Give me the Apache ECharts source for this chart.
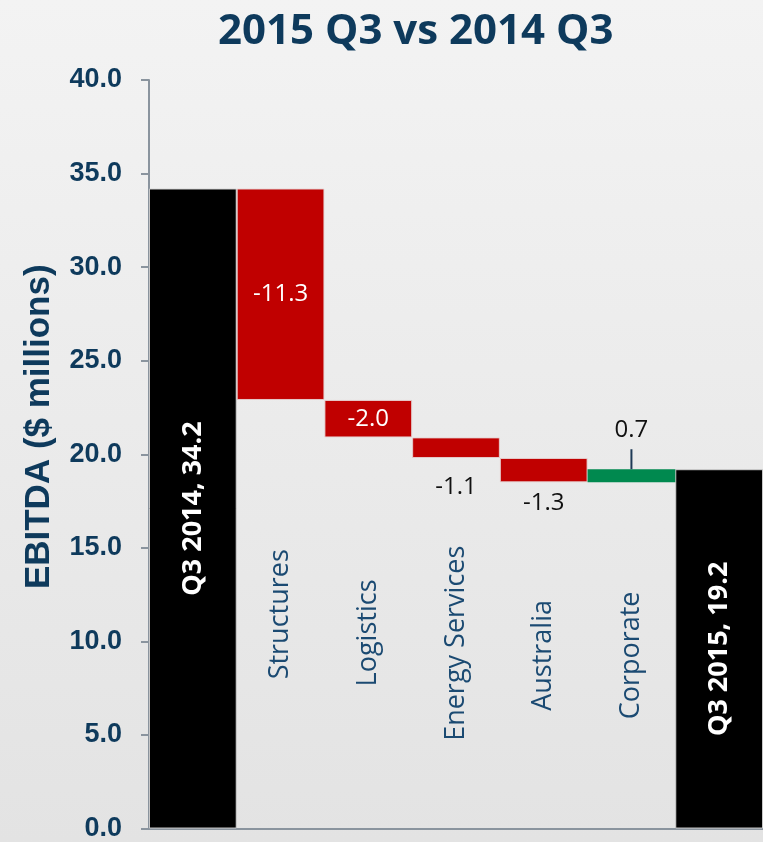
<!DOCTYPE html>
<html>
<head>
<meta charset="utf-8">
<script src="https://cdn.jsdelivr.net/npm/echarts@6/dist/echarts.min.js"></script>
<style>
html,body{margin:0;padding:0;}
#c{width:763px;height:842px;}
</style>
</head>
<body>
<div id="c"></div>
<script>
// ---- data ----
var categories = ['Q3 2014', 'Structures', 'Logistics', 'Energy Services', 'Australia', 'Corporate', 'Q3 2015'];
var startTotal = 34.2;           // Q3 2014 EBITDA
var endTotal = 19.2;             // Q3 2015 EBITDA
var changes = [-11.3, -2.0, -1.1, -1.3, 0.7];   // Structures..Corporate
var yTicks = [0, 40, 5];         // min, max, interval

// ---- derive waterfall stacks ----
var baseData = ['-'], decData = ['-'], incData = ['-'], totalData = [startTotal];
var running = startTotal;
changes.forEach(function (d, i) {
  var next = Math.round((running + d) * 10) / 10;
  var low = Math.min(running, next);
  baseData.push(low);
  if (d < 0) { decData.push(-d); incData.push('-'); }
  else { incData.push(d); decData.push('-'); }
  totalData.push('-');
  running = next;
});
baseData.push('-'); decData.push('-'); incData.push('-'); totalData.push(endTotal);

var navy = '#0E3A5C';
var catColor = '#1B4A72';
var axisGray = '#8A949E';

// per-item label settings for decreases
var decItems = decData.map(function (v, i) {
  if (v === '-') return v;
  var item = { value: v };
  if (v < 1.5) {
    item.label = { position: 'bottom', color: '#111', distance: (i === 3 ? 17 : 9) };
  }
  return item;
});

var chart = echarts.init(document.getElementById('c'));
chart.setOption({
  backgroundColor: {
    type: 'linear', x: 0, y: 0, x2: 0, y2: 1,
    colorStops: [{ offset: 0, color: '#f3f3f3' }, { offset: 1, color: '#e3e3e3' }]
  },
  animation: false,
  title: {
    text: '2015 Q3 vs 2014 Q3',
    left: 213, top: 6,
    textStyle: { fontFamily: 'Open Sans', fontWeight: 'bold', fontSize: 42, color: navy }
  },
  grid: { left: 149, right: 0, top: 80, bottom: 12 },
  xAxis: {
    type: 'category',
    data: categories,
    axisLine: { lineStyle: { color: axisGray, width: 2 } },
    axisTick: { show: false },
    axisLabel: { show: false },
    splitLine: { show: false }
  },
  yAxis: {
    type: 'value',
    min: yTicks[0], max: yTicks[1], interval: yTicks[2],
    name: 'EBITDA ($ millions)',
    nameLocation: 'middle',
    nameGap: 92,
    nameTextStyle: {
      fontFamily: 'Liberation Sans', fontWeight: 'bold', fontSize: 35, color: navy,
      padding: [0, 0, 0, 55]
    },
    axisLine: { show: true, lineStyle: { color: axisGray, width: 2 } },
    axisTick: { show: true, length: 8, lineStyle: { color: axisGray, width: 2 } },
    axisLabel: {
      margin: 27,
      fontFamily: 'Liberation Sans', fontWeight: 'bold', fontSize: 27, color: navy,
      formatter: function (v) { return v.toFixed(1); }
    },
    splitLine: { show: false }
  },
  series: [
    {
      name: 'base', type: 'bar', stack: 'w', barCategoryGap: '0%',
      itemStyle: { color: 'transparent' },
      label: {
        show: true, position: 'inside', rotate: 90,
        fontFamily: 'Open Sans', fontSize: 27, color: catColor,
        formatter: function (p) { return p.name; }
      },
      data: baseData
    },
    {
      name: 'total', type: 'bar', stack: 'w', barCategoryGap: '0%',
      itemStyle: { color: '#000000', borderColor: 'rgba(210,210,210,0.9)', borderWidth: 1 },
      label: {
        show: true, position: 'inside', rotate: 90,
        fontFamily: 'Open Sans', fontWeight: 'bold', fontSize: 27, color: '#ffffff',
        formatter: function (p) { return p.name + ', ' + p.value.toFixed(1); }
      },
      data: totalData
    },
    {
      name: 'decrease', type: 'bar', stack: 'w', barCategoryGap: '0%',
      itemStyle: { color: '#C00000', borderColor: 'rgba(230,210,210,0.9)', borderWidth: 1 },
      label: {
        show: true, position: 'inside',
        fontFamily: 'Open Sans', fontSize: 24, color: '#ffffff',
        formatter: function (p) { return '-' + p.value.toFixed(1); }
      },
      data: decItems
    },
    {
      name: 'increase', type: 'bar', stack: 'w', barCategoryGap: '0%',
      itemStyle: { color: '#00894F' },
      label: {
        show: true, position: 'top', distance: 0,
        formatter: function (p) { return '{v|' + p.value.toFixed(1) + '}\n{l| }'; },
        rich: {
          v: { fontFamily: 'Open Sans', fontSize: 24, color: '#111', lineHeight: 38 },
          l: { width: 2, height: 20, lineHeight: 20, fontSize: 2, backgroundColor: '#1F3B57' }
        }
      },
      data: incData
    }
  ]
});
</script>
</body>
</html>
